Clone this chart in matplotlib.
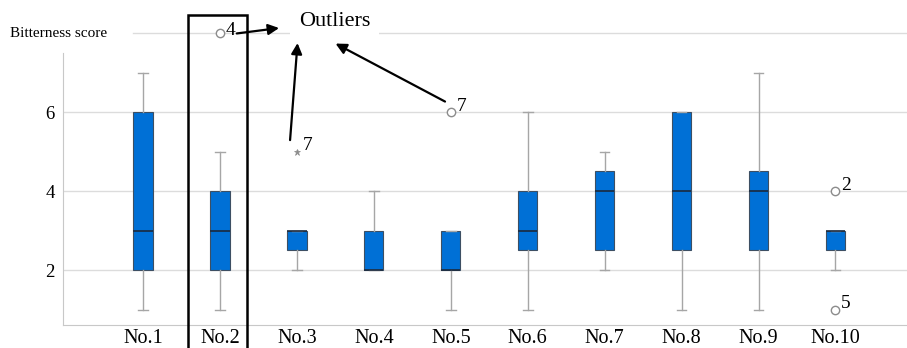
import numpy as np
import matplotlib
matplotlib.use('Agg')
import matplotlib.pyplot as plt
from matplotlib.patches import Rectangle

plt.rcParams['font.family'] = ['Liberation Serif', 'DejaVu Serif']

# box plot summary per sample
samples = ['No.1', 'No.2', 'No.3', 'No.4', 'No.5', 'No.6', 'No.7', 'No.8', 'No.9', 'No.10']
whislo = [1, 1, 2, 2, 1, 1, 2, 1, 1, 2]
q1 = [2, 2, 2.5, 2, 2, 2.5, 2.5, 2.5, 2.5, 2.5]
med = [3, 3, 3, 2, 2, 3, 4, 4, 4, 3]
q3 = [6, 4, 3, 3, 3, 4, 4.5, 6, 4.5, 3]
whishi = [7, 5, 3, 4, 3, 6, 5, 6, 7, 3]

# outlying cases: sample number, score, case id, marker (o = outlier, * = extreme)
out_sample = [2, 3, 5, 10, 10]
out_value = [8, 5, 6, 4, 1]
out_case = ['4', '7', '7', '2', '5']
out_kind = ['o', '*', 'o', 'o', 'o']

yticks = [2, 4, 6]

fig = plt.figure(figsize=(9.07, 3.48), dpi=100)
ax = fig.add_axes([0.0695, 0.066, 0.9305, 0.839])

stats = []
for i in range(len(samples)):
    stats.append(dict(whislo=whislo[i], q1=q1[i], med=med[i], q3=q3[i],
                      whishi=whishi[i], fliers=[], label=samples[i]))

pos = np.arange(1, len(samples) + 1)
ax.bxp(stats, positions=pos, widths=0.25, patch_artist=True, showfliers=False,
       boxprops=dict(facecolor='#0070d6', edgecolor='#3d4f63', linewidth=0.8),
       whiskerprops=dict(color='#a6a6a6', linewidth=1.0),
       capprops=dict(color='#a6a6a6', linewidth=1.0),
       medianprops=dict(color='#1b2a3e', linewidth=1.2),
       zorder=3)

# case label offsets in points (the one next to the arrow sits lower)
label_off = [(4, 2), (4, 4), (4, 4), (4, 4), (4, 4)]
for s, v, c, k, off in zip(out_sample, out_value, out_case, out_kind, label_off):
    if k == 'o':
        ax.plot(s, v, 'o', mfc='white', mec='#8c8c8c', ms=6, mew=1.0,
                zorder=4, clip_on=False)
    else:
        ax.plot(s, v, '*', color='#8c8c8c', ms=5, mew=0.5, zorder=4,
                clip_on=False)
    ax.annotate(c, (s, v), xytext=off, textcoords='offset points',
                ha='left', va='center', fontsize=14, zorder=5,
                annotation_clip=False)

ax.set_xlim(-0.04, 10.93)
ax.set_ylim(0.608, 8.0)
ax.set_xticks(pos)
ax.set_xticklabels(samples, fontsize=14.5)
ax.set_yticks(yticks)
ax.set_yticklabels([str(t) for t in yticks], fontsize=13.5)
ax.tick_params(axis='x', length=0, pad=3)
ax.tick_params(axis='y', length=0, pad=6)

for t in yticks:
    ax.axhline(t, color='#dcdcdc', linewidth=1.0, zorder=0)
ax.plot([0.87, 10.93], [8, 8], color='#dcdcdc', linewidth=1.0, zorder=0,
        clip_on=False)

ax.spines['top'].set_visible(False)
ax.spines['right'].set_visible(False)
ax.spines['left'].set_color('#c8c8c8')
ax.spines['bottom'].set_color('#c8c8c8')
ax.spines['left'].set_bounds(0.608, 7.5)

ax.text(-0.729, 8.0, 'Bitterness score', fontsize=11, ha='left', va='center')

# highlight box around No.2 and outlier callouts
ax.add_patch(Rectangle((1.585, -1), 0.767, 9.463, fill=False, edgecolor='black',
                       linewidth=1.8, clip_on=False, zorder=6))
ax.text(3.489, 8.29, 'Outliers', fontsize=16, ha='center', va='center',
        bbox=dict(facecolor='white', edgecolor='none', pad=6), zorder=6)
arrows = [((2.218, 7.99), (2.768, 8.127)),
          ((2.911, 5.29), (3.008, 7.747)),
          ((4.925, 6.266), (3.502, 7.734))]
for tail, tip in arrows:
    ax.annotate('', xy=tip, xytext=tail,
                arrowprops=dict(arrowstyle='-|>', color='black', lw=1.6,
                                mutation_scale=16, shrinkA=0, shrinkB=0),
                annotation_clip=False, zorder=7)

fig.savefig('out.png', dpi=100)
